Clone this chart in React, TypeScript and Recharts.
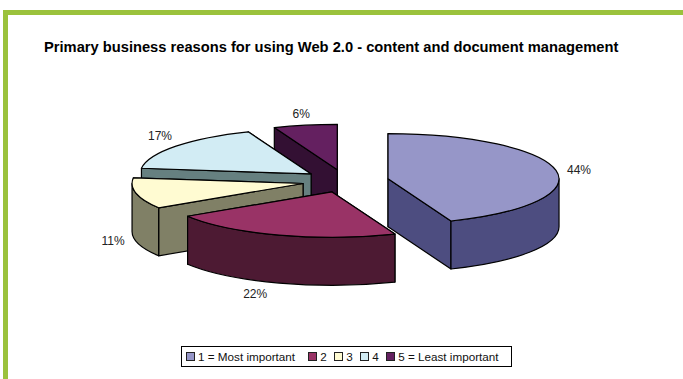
import { Legend, Pie, PieChart } from "recharts";

const categories = ["1 = Most important", "2", "3", "4", "5 = Least important"];
const shares = [44, 22, 11, 17, 6];

const TOP_COLORS = ["#9696C8", "#993366", "#FFFBD2", "#D2ECF4", "#642060"];
const SIDE_COLORS = ["#4D4D80", "#4D1A33", "#808066", "#668080", "#331033"];

// nudges the percent labels away from the rim of each slice
const LABEL_NUDGE = [
  [23, 0],
  [-24, 11],
  [-23, 0],
  [-16, -10],
  [-4, -11],
];

const WIDTH = 683;
const HEIGHT = 379;
const RADIUS = 171;
const TILT = 0.265;
const DEPTH = 48;
const EXPLODE = 43.4;
const GREEN = "#9BC23C";
const FONT = '"Liberation Sans", Arial, sans-serif';

// drawn last-to-first so that nearer slices paint over the ones behind them
const pieData = categories
  .map((name, i) => ({ name, value: shares[i], rank: i }))
  .reverse();

const rad = (deg: number) => (deg * Math.PI) / 180;

// flatten a polar point onto the tilted plane, pushed out along the mid angle
function project(cx: number, cy: number, mid: number, angle: number, r: number) {
  return {
    x: cx + Math.cos(rad(mid)) * EXPLODE + Math.cos(rad(angle)) * r,
    y: cy - Math.sin(rad(mid)) * EXPLODE * TILT - Math.sin(rad(angle)) * r * TILT,
  };
}

function Slice3D(props: any) {
  const { cx, cy, startAngle, endAngle, outerRadius, payload } = props;
  const from = Math.min(startAngle, endAngle);
  const to = Math.max(startAngle, endAngle);
  const mid = (from + to) / 2;
  const rank = payload.rank;
  const rx = outerRadius;
  const ry = outerRadius * TILT;
  const apex = project(cx, cy, mid, 0, 0);
  const pt = (angle: number) => project(cx, cy, mid, angle, outerRadius);
  const large = to - from > 180 ? 1 : 0;
  const line = { stroke: "#000", strokeWidth: 1.2, strokeLinejoin: "round" as const };

  const cutWall = (angle: number) => {
    const p = pt(angle);
    return `M${apex.x} ${apex.y}L${p.x} ${p.y}L${p.x} ${p.y + DEPTH}L${apex.x} ${apex.y + DEPTH}Z`;
  };
  // back wall first, it ends up hidden by the rest of the solid
  const walls = [from, to].sort((a, b) => pt(a).y - pt(b).y);

  const lo = Math.max(from, 180);
  const hi = Math.min(to, 360);
  let rim = "";
  if (hi > lo) {
    const a = pt(lo);
    const b = pt(hi);
    rim = `M${a.x} ${a.y}A${rx} ${ry} 0 0 0 ${b.x} ${b.y}L${b.x} ${b.y + DEPTH}A${rx} ${ry} 0 0 1 ${a.x} ${a.y + DEPTH}Z`;
  }

  const s = pt(from);
  const e = pt(to);
  const top = `M${apex.x} ${apex.y}L${s.x} ${s.y}A${rx} ${ry} 0 ${large} 0 ${e.x} ${e.y}Z`;

  return (
    <g>
      {walls.map((angle) => (
        <path key={angle} d={cutWall(angle)} fill={SIDE_COLORS[rank]} {...line} />
      ))}
      {rim && <path d={rim} fill={SIDE_COLORS[rank]} {...line} />}
      <path d={top} fill={TOP_COLORS[rank]} {...line} />
    </g>
  );
}

function renderLabel(props: any) {
  const { cx, cy, midAngle, outerRadius, payload } = props;
  const rank = payload.rank;
  const rim = project(cx, cy, midAngle, midAngle, outerRadius);
  const front = Math.sin(rad(midAngle)) < 0;
  return (
    <text
      x={rim.x + LABEL_NUDGE[rank][0]}
      y={rim.y + LABEL_NUDGE[rank][1] + (front ? DEPTH : 0)}
      textAnchor="middle"
      dominantBaseline="central"
      fontFamily={FONT}
      fontSize={12}
      fill="#222"
    >
      {`${payload.value}%`}
    </text>
  );
}

function LegendBox() {
  return (
    <div
      style={{
        display: "flex",
        alignItems: "center",
        boxSizing: "border-box",
        width: 331,
        height: 21,
        paddingLeft: 4,
        border: "1px solid #000",
        background: "#fff",
        fontFamily: FONT,
        fontSize: 11.7,
        color: "#111",
        whiteSpace: "nowrap",
      }}
    >
      {categories.map((name, i) => (
        <span
          key={name}
          style={{ display: "flex", alignItems: "center", marginRight: i === 0 ? 13 : 7.5 }}
        >
          <span
            style={{
              boxSizing: "border-box",
              width: 9,
              height: 9,
              marginRight: 3,
              border: "1px solid #222",
              background: TOP_COLORS[i],
            }}
          />
          {name}
        </span>
      ))}
    </div>
  );
}

export default function App() {
  return (
    <div
      style={{
        position: "fixed",
        left: 0,
        top: 0,
        width: WIDTH,
        height: HEIGHT,
        overflow: "hidden",
        background: "#fff",
      }}
    >
      {/* green frame along the top and left */}
      <div style={{ position: "absolute", left: 3, top: 10, right: 0, height: 5, background: GREEN }} />
      <div style={{ position: "absolute", left: 3, top: 10, bottom: 0, width: 5, background: GREEN }} />
      <div
        style={{
          position: "absolute",
          left: 44,
          top: 39,
          fontFamily: FONT,
          fontWeight: 700,
          fontSize: 14.7,
          lineHeight: "16px",
          color: "#000",
          whiteSpace: "nowrap",
        }}
      >
        Primary business reasons for using Web 2.0 - content and document management
      </div>
      <PieChart
        width={WIDTH}
        height={HEIGHT}
        margin={{ top: 0, right: 0, bottom: 0, left: 0 }}
        style={{ position: "absolute", left: 0, top: 0 }}
      >
        <Pie
          data={pieData}
          dataKey="value"
          nameKey="name"
          cx={345.4}
          cy={181}
          innerRadius={0}
          outerRadius={RADIUS}
          startAngle={90}
          endAngle={450}
          shape={Slice3D}
          label={renderLabel}
          labelLine={false}
          isAnimationActive={false}
        />
        <Legend
          content={<LegendBox />}
          wrapperStyle={{ position: "absolute", left: 181, top: 346, width: 331, height: 21 }}
        />
      </PieChart>
    </div>
  );
}
